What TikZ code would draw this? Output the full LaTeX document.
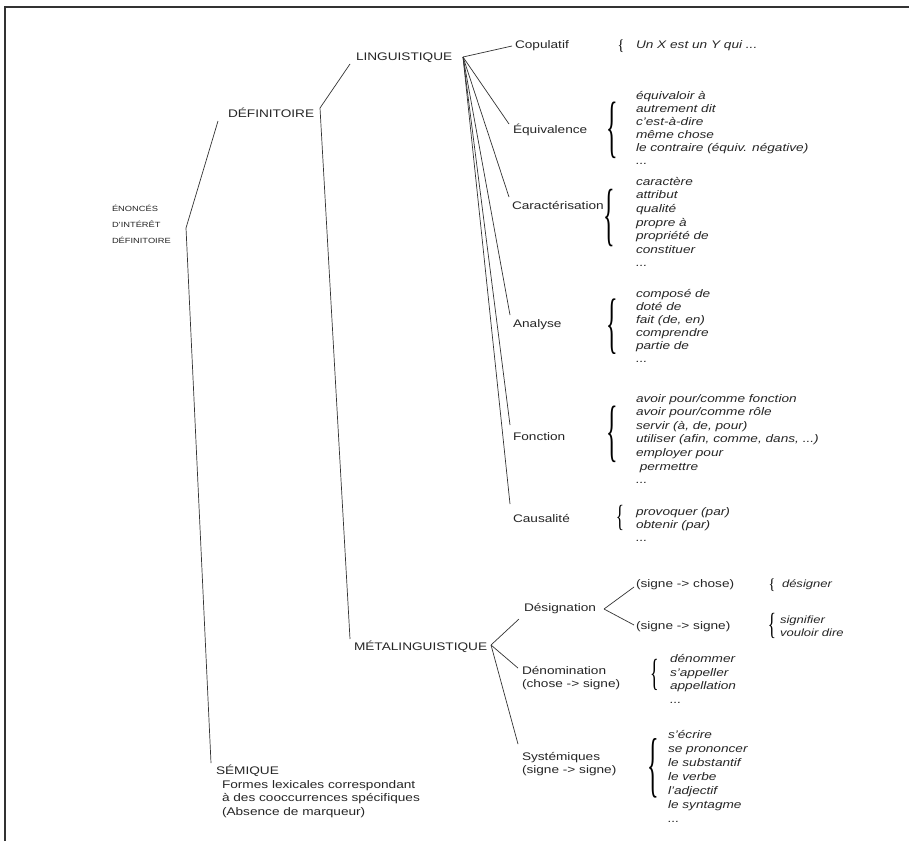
\documentclass[tikz,border=0pt]{standalone}
\usepackage{graphicx}
\usepackage{fontspec}
\setmainfont{Liberation Sans}[FakeStretch=1.24]
\newfontfamily\brfont{Liberation Serif}
\usetikzlibrary{calc}
% stretched text brace: #1 font size, #2 vertical scale
\newcommand\tbrace[2]{\scalebox{1}[#2]{\fontsize{#1}{#1}\selectfont\brfont\{}}
\begin{document}
\begin{tikzpicture}[x=1pt,y=-1pt,
  every node/.style={inner sep=0pt,outer sep=0pt,text=black!85},
  lab/.style={anchor=west,align=left,font=\fontsize{11}{13.5}\selectfont},
  lst/.style={anchor=west,align=left,font=\fontsize{11}{13}\selectfont\itshape},
  lstw/.style={lst,font=\fontsize{11}{13.6}\selectfont\itshape},
  lstx/.style={lst,font=\fontsize{11}{14}\selectfont\itshape},
  lsts/.style={lst,font=\fontsize{10.5}{12.5}\selectfont\itshape},
  brnode/.style={anchor=center,text=black},
  conn/.style={line width=0.7pt,draw=black!80}]
\useasboundingbox (0,0) rectangle (909,841);
\fill[white] (0,0) rectangle (909,841);
\draw[line width=1.2pt,black!80] (5,841) -- (5,7) -- (909,7);

% main labels
\node[anchor=west,align=left,font=\fontsize{7.5}{16}\selectfont] (enon) at (112,224) {ÉNONCÉS\\D'INTÉRÊT\\DÉFINITOIRE};
\node[lab] (def) at (228,113) {DÉFINITOIRE};
\node[lab] (ling) at (356,58) {LINGUISTIQUE};
\node[lab] (meta) at (354,647) {MÉTALINGUISTIQUE};
\node[lab] (sem) at (216,771) {SÉMIQUE};
\node[lab] (semt) at (222,799) {Formes lexicales correspondant\\à des cooccurrences spécifiques\\(Absence de marqueur)};

% linguistique branches
\node[lab] (cop) at (515,46) {Copulatif};
\node[brnode] (bcop) at (621,46) {\tbrace{14}{1.1}};
\node[lst] (copl) at (636,46) {Un X est un Y qui ...};

\node[lab] (equ) at (513,130) {Équivalence};
\node[brnode] (bequ) at (612,130) {\tbrace{24}{2.85}};
\node[lst] (equl) at (636,128) {équivaloir à\\autrement dit\\c'est-à-dire\\même chose\\le contraire (équiv. négative)\\...};

\node[lab] (car) at (512,205) {Caractérisation};
\node[brnode] (bcar) at (609,218) {\tbrace{24}{2.9}};
\node[lstw] (carl) at (636,222) {caractère\\attribut\\qualité\\propre à\\propriété de\\constituer\\...};

\node[lab] (ana) at (513,325) {Analyse};
\node[brnode] (bana) at (612,327) {\tbrace{24}{2.8}};
\node[lst] (anal) at (636,326) {composé de\\doté de\\fait (de, en)\\comprendre\\partie de\\...};

\node[lab] (fon) at (513,437) {Fonction};
\node[brnode] (bfon) at (612,434) {\tbrace{24}{2.85}};
\node[lstw] (fonl) at (636,439) {avoir pour/comme fonction\\avoir pour/comme rôle\\servir (à, de, pour)\\utiliser (afin, comme, dans, ...)\\employer pour\\\ permettre\\...};

\node[lab] (cau) at (513,518) {Causalité};
\node[brnode] (bcau) at (620,518) {\tbrace{17}{1.8}};
\node[lst] (caul) at (636,525) {provoquer (par)\\obtenir (par)\\...};

% metalinguistique branches
\node[lab] (desig) at (524,609) {Désignation};
\node[lab] (sc) at (636,585) {(signe -> chose)};
\node[brnode] (bdes) at (772,585) {\tbrace{14}{1.1}};
\node[lsts] (desl) at (782,585) {désigner};
\node[lab] (ss) at (636,627) {(signe -> signe)};
\node[brnode] (bsig) at (772,626) {\tbrace{17}{1.8}};
\node[lsts] (sigl) at (780,626) {signifier\\vouloir dire};

\node[lab] (den) at (522,678) {Dénomination\\(chose -> signe)};
\node[brnode] (bden) at (655,675) {\tbrace{18}{2.1}};
\node[lstw] (denl) at (670,679) {dénommer\\s'appeller\\appellation\\...};

\node[lab] (sys) at (522,764) {Systémiques\\(signe -> signe)};
\node[brnode] (bsys) at (653,768) {\tbrace{24}{3.0}};
\node[lstx] (sysl) at (668,776) {s'écrire\\se prononcer\\le substantif\\le verbe\\l'adjectif\\le syntagme\\...};

% junctions
\coordinate (R) at (186,228);
\coordinate (D) at (320,108);
\coordinate (L) at (463,57);
\coordinate (M) at (491,645);
\coordinate (G) at (604,609);

\draw[conn] ($(def.west)+(-10,8)$) -- (R) -- ($(sem.west)+(-5,-8)$);
\draw[conn] ($(ling.west)+(-6,6)$) -- (D) -- ($(meta.west)+(-4,-8)$);
\draw[conn] (L) -- ($(cop.west)+(-3,0)$);
\draw[conn] (L) -- ($(equ.west)+(-4,-6)$);
\draw[conn] (L) -- ($(car.west)+(-3,-8)$);
\draw[conn] (L) -- ($(ana.west)+(-3,-10)$);
\draw[conn] (L) -- ($(fon.west)+(-3,-12)$);
\draw[conn] (L) -- ($(cau.west)+(-3,-14)$);
\draw[conn] (M) -- ($(desig.west)+(-5,10)$);
\draw[conn] (M) -- ($(den.north west)+(-4,2)$);
\draw[conn] (M) -- ($(sys.north west)+(-4,-8)$);
\draw[conn] (G) -- ($(sc.west)+(-2,2)$);
\draw[conn] (G) -- ($(ss.west)+(-2,-2)$);
\end{tikzpicture}
\end{document}
